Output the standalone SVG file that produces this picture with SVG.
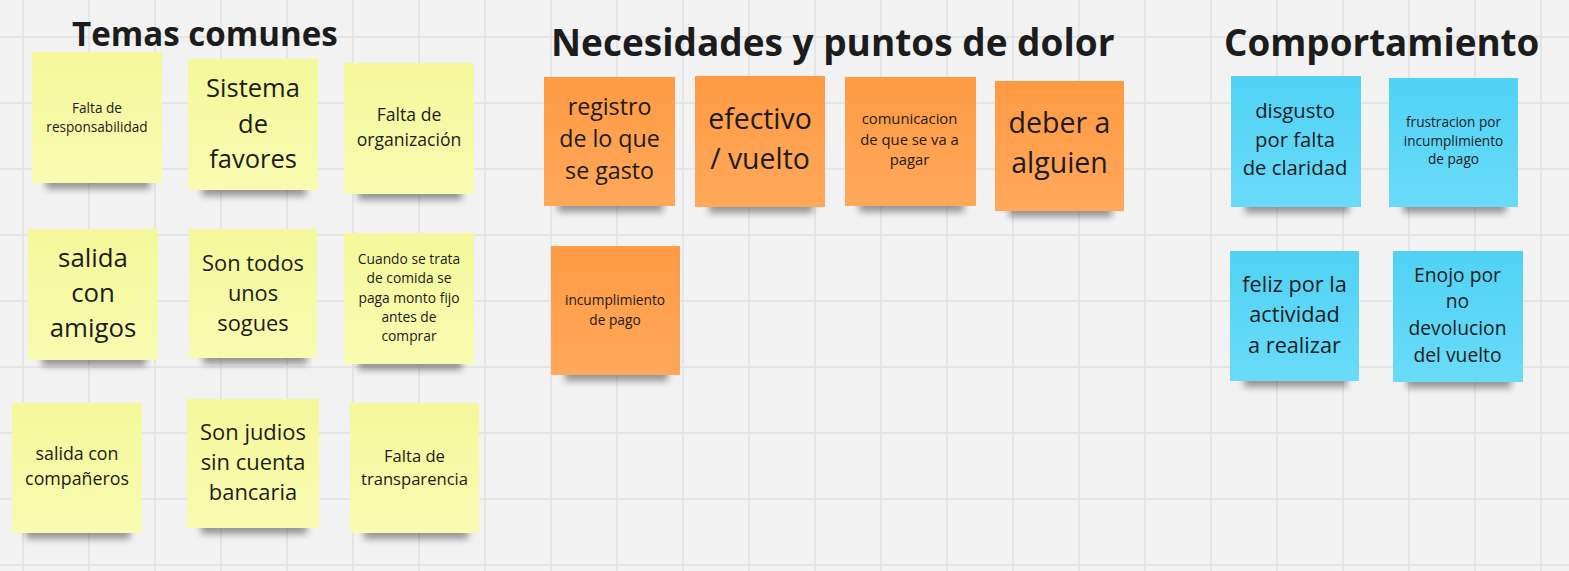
<svg xmlns="http://www.w3.org/2000/svg" width="1569" height="571" viewBox="0 0 1569 571">
<defs>
<pattern id="grid" x="22" y="36" width="66" height="66" patternUnits="userSpaceOnUse">
<rect x="0" y="0" width="2" height="66" fill="#e5e5e5"/>
<rect x="0" y="0" width="66" height="2" fill="#e5e5e5"/>
</pattern>
<linearGradient id="gy" x1="0" y1="0" x2="0" y2="1"><stop offset="0" stop-color="#f4f89a"/><stop offset="1" stop-color="#f8fbb0"/></linearGradient>
<linearGradient id="go" x1="0" y1="0" x2="0" y2="1"><stop offset="0" stop-color="#ff9a43"/><stop offset="1" stop-color="#ffa85b"/></linearGradient>
<linearGradient id="gb" x1="0" y1="0" x2="0" y2="1"><stop offset="0" stop-color="#50d2f5"/><stop offset="1" stop-color="#69dbf8"/></linearGradient>
<filter id="sh" x="-20%" y="-50%" width="140%" height="200%"><feGaussianBlur stdDeviation="3.5"/></filter>
</defs>
<style>
.t{font-family:"Open Sans","Noto Sans","Liberation Sans",sans-serif;fill:#1c1c1c;text-anchor:middle}
.h{font-family:"Open Sans","Noto Sans","Liberation Sans",sans-serif;font-weight:700;fill:#1c1c1c}
.y{fill:url(#gy)}
.o{fill:url(#go)}
.b{fill:url(#gb)}
.s{fill:#000;opacity:0.38;filter:url(#sh)}
</style>
<rect width="1569" height="571" fill="#f2f2f2"/>
<rect width="1569" height="571" fill="url(#grid)"/>

<g id="titles">
<text class="h" x="72" y="46" font-size="33.1">Temas comunes</text>
<text class="h" x="551" y="56" font-size="37">Necesidades y puntos de dolor</text>
<text class="h" x="1224" y="56" font-size="36.8">Comportamiento</text>
</g>

<g id="connectors"></g>

<g id="n1"><rect class="s" x="46" y="169" width="104" height="20"/><rect class="y" x="32" y="52" width="130" height="131"/>
<text class="t" font-size="13.6"><tspan x="97" y="112.5">Falta de</tspan><tspan x="97" y="131.5">responsabilidad</tspan></text></g>

<g id="n2"><rect class="s" x="202" y="176" width="104" height="20"/><rect class="y" x="188" y="59" width="130" height="131"/>
<text class="t" font-size="25.5"><tspan x="253" y="96.7">Sistema</tspan><tspan x="253" y="132.5">de</tspan><tspan x="253" y="168">favores</tspan></text></g>

<g id="n3"><rect class="s" x="358" y="180" width="104" height="20"/><rect class="y" x="344" y="63" width="130" height="131"/>
<text class="t" font-size="17.6"><tspan x="409" y="120.7">Falta de</tspan><tspan x="409" y="146">organización</tspan></text></g>

<g id="n4"><rect class="s" x="42" y="346" width="104" height="20"/><rect class="y" x="28" y="229" width="130" height="131"/>
<text class="t" font-size="25.8"><tspan x="93" y="266.7">salida</tspan><tspan x="93" y="301.7">con</tspan><tspan x="93" y="337.3">amigos</tspan></text></g>

<g id="n5"><rect class="s" x="203" y="344" width="104" height="20"/><rect class="y" x="189" y="229" width="128" height="129"/>
<text class="t" font-size="21.8"><tspan x="253" y="271">Son todos</tspan><tspan x="253" y="301">unos</tspan><tspan x="253" y="330.7">sogues</tspan></text></g>

<g id="n6"><rect class="s" x="358" y="350" width="104" height="20"/><rect class="y" x="344" y="233" width="130" height="131"/>
<text class="t" font-size="13.8"><tspan x="409" y="264">Cuando se trata</tspan><tspan x="409" y="283.3">de comida se</tspan><tspan x="409" y="302.6">paga monto fijo</tspan><tspan x="409" y="321.9">antes de</tspan><tspan x="409" y="341.2">comprar</tspan></text></g>

<g id="n7"><rect class="s" x="26" y="519" width="104" height="20"/><rect class="y" x="12" y="403" width="130" height="130"/>
<text class="t" font-size="17.8"><tspan x="77" y="460">salida con</tspan><tspan x="77" y="485">compañeros</tspan></text></g>

<g id="n8"><rect class="s" x="201" y="514" width="106" height="20"/><rect class="y" x="187" y="399" width="132" height="129"/>
<text class="t" font-size="21.9"><tspan x="253" y="440">Son judios</tspan><tspan x="253" y="470">sin cuenta</tspan><tspan x="253" y="500">bancaria</tspan></text></g>

<g id="n9"><rect class="s" x="364" y="519" width="104" height="20"/><rect class="y" x="350" y="403" width="129" height="130"/>
<text class="t" font-size="16.6"><tspan x="414.5" y="461.7">Falta de</tspan><tspan x="414.5" y="484.5">transparencia</tspan></text></g>

<g id="n10"><rect class="s" x="558" y="192" width="105" height="20"/><rect class="o" x="544" y="77" width="131" height="129"/>
<text class="t" font-size="23.2"><tspan x="609.5" y="115">registro</tspan><tspan x="609.5" y="147.3">de lo que</tspan><tspan x="609.5" y="179.3">se gasto</tspan></text></g>

<g id="n11"><rect class="s" x="709" y="193" width="104" height="20"/><rect class="o" x="695" y="76" width="130" height="131"/>
<text class="t" font-size="28.4"><tspan x="760" y="129">efectivo</tspan><tspan x="760" y="169">/ vuelto</tspan></text></g>

<g id="n12"><rect class="s" x="859" y="192" width="105" height="20"/><rect class="o" x="845" y="77" width="131" height="129"/>
<text class="t" font-size="14.8"><tspan x="909.5" y="124.3">comunicacion</tspan><tspan x="909.5" y="145">de que se va a</tspan><tspan x="909.5" y="165.3">pagar</tspan></text></g>

<g id="n13"><rect class="s" x="1009" y="197" width="103" height="20"/><rect class="o" x="995" y="81" width="129" height="130"/>
<text class="t" font-size="28.5"><tspan x="1059.5" y="133.3">deber a</tspan><tspan x="1059.5" y="173.3">alguien</tspan></text></g>

<g id="n14"><rect class="s" x="565" y="361" width="103" height="20"/><rect class="o" x="551" y="246" width="129" height="129"/>
<text class="t" font-size="13.7"><tspan x="615" y="305">incumplimiento</tspan><tspan x="615" y="325">de pago</tspan></text></g>

<g id="n15"><rect class="s" x="1245" y="193" width="104" height="20"/><rect class="b" x="1231" y="76" width="130" height="131"/>
<text class="t" font-size="20.3"><tspan x="1295" y="118.3">disgusto</tspan><tspan x="1295" y="146.5">por falta</tspan><tspan x="1295" y="175">de claridad</tspan></text></g>

<g id="n16"><rect class="s" x="1403" y="193" width="103" height="20"/><rect class="b" x="1389" y="78" width="129" height="129"/>
<text class="t" font-size="13.6"><tspan x="1453.5" y="126.7">frustracion por</tspan><tspan x="1453.5" y="145.5">incumplimiento</tspan><tspan x="1453.5" y="164.3">de pago</tspan></text></g>

<g id="n17"><rect class="s" x="1244" y="367" width="103" height="20"/><rect class="b" x="1230" y="251" width="129" height="130"/>
<text class="t" font-size="21.7"><tspan x="1294.5" y="292.3">feliz por la</tspan><tspan x="1294.5" y="322.3">actividad</tspan><tspan x="1294.5" y="352.5">a realizar</tspan></text></g>

<g id="n18"><rect class="s" x="1407" y="368" width="104" height="20"/><rect class="b" x="1393" y="251" width="130" height="131"/>
<text class="t" font-size="19.3"><tspan x="1457.5" y="281.7">Enojo por</tspan><tspan x="1457.5" y="308.4">no</tspan><tspan x="1457.5" y="335">devolucion</tspan><tspan x="1457.5" y="361.7">del vuelto</tspan></text></g>
</svg>
